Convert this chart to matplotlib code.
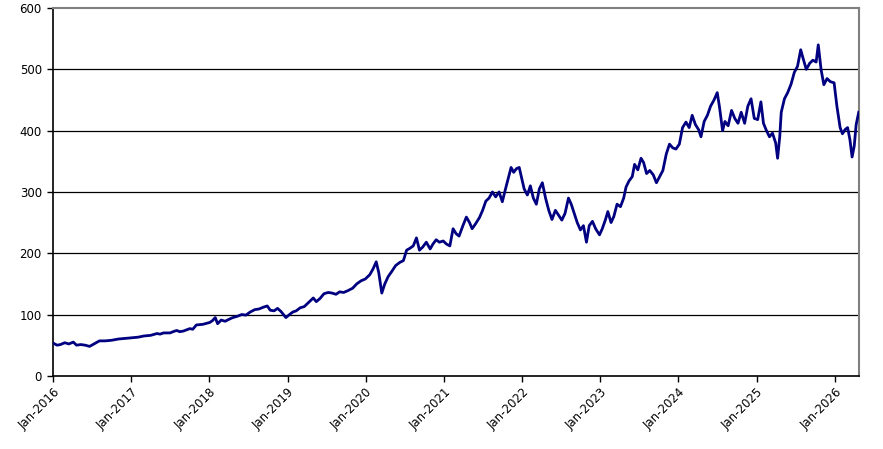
#!/usr/bin/env python3

import matplotlib
matplotlib.use('Agg')
import matplotlib.pyplot as plt
import matplotlib.dates as mdates
import pandas as pd

# readings taken off the chart, roughly two per month
DATES = [
    '2016-01-04', '2016-01-20', '2016-02-05', '2016-02-25', '2016-03-15', '2016-04-05',
    '2016-04-20', '2016-05-10', '2016-05-30', '2016-06-20', '2016-07-10', '2016-08-05',
    '2016-09-01', '2016-10-01', '2016-11-01', '2016-12-01',
    '2017-01-03', '2017-02-01', '2017-03-01', '2017-04-01', '2017-05-01', '2017-05-15',
    '2017-06-01', '2017-07-01', '2017-07-15', '2017-08-01', '2017-08-15', '2017-09-01',
    '2017-10-01', '2017-10-15', '2017-11-01', '2017-12-01',
    '2018-01-02', '2018-01-15', '2018-01-28', '2018-02-08', '2018-02-25', '2018-03-15',
    '2018-04-01', '2018-04-20', '2018-05-10', '2018-06-01', '2018-06-20', '2018-07-10',
    '2018-08-01', '2018-08-20', '2018-09-10', '2018-09-28', '2018-10-12', '2018-10-30',
    '2018-11-15', '2018-12-01', '2018-12-24',
    '2019-01-10', '2019-01-25', '2019-02-10', '2019-03-01', '2019-03-20', '2019-04-10',
    '2019-05-01', '2019-05-15', '2019-06-01', '2019-06-20', '2019-07-10', '2019-07-28',
    '2019-08-15', '2019-09-01', '2019-09-20', '2019-10-10', '2019-11-01', '2019-11-20',
    '2019-12-10', '2019-12-30',
    '2020-01-20', '2020-02-05', '2020-02-19', '2020-03-02', '2020-03-16', '2020-03-30',
    '2020-04-15', '2020-05-01', '2020-05-20', '2020-06-08', '2020-06-25', '2020-07-10',
    '2020-07-25', '2020-08-10', '2020-08-25', '2020-09-08', '2020-09-23', '2020-10-10',
    '2020-10-28', '2020-11-10', '2020-11-25', '2020-12-10', '2020-12-28',
    '2021-01-12', '2021-01-28', '2021-02-12', '2021-02-26', '2021-03-12', '2021-03-30',
    '2021-04-15', '2021-04-30', '2021-05-12', '2021-05-28', '2021-06-15', '2021-06-30',
    '2021-07-15', '2021-07-30', '2021-08-15', '2021-08-30', '2021-09-15', '2021-09-30',
    '2021-10-15', '2021-10-30', '2021-11-10', '2021-11-22', '2021-12-05', '2021-12-18',
    '2021-12-30',
    '2022-01-10', '2022-01-25', '2022-02-08', '2022-02-22', '2022-03-08', '2022-03-22',
    '2022-04-05', '2022-04-20', '2022-05-05', '2022-05-20', '2022-06-05', '2022-06-20',
    '2022-07-05', '2022-07-20', '2022-08-05', '2022-08-18', '2022-09-01', '2022-09-15',
    '2022-09-30', '2022-10-14', '2022-10-28', '2022-11-10', '2022-11-25', '2022-12-10',
    '2022-12-28',
    '2023-01-10', '2023-01-25', '2023-02-05', '2023-02-20', '2023-03-05', '2023-03-20',
    '2023-04-05', '2023-04-20', '2023-05-01', '2023-05-15', '2023-05-30', '2023-06-10',
    '2023-06-25', '2023-07-10', '2023-07-22', '2023-08-05', '2023-08-20', '2023-09-05',
    '2023-09-20', '2023-10-05', '2023-10-20', '2023-11-05', '2023-11-20', '2023-12-05',
    '2023-12-20',
    '2024-01-05', '2024-01-20', '2024-02-05', '2024-02-20', '2024-03-05', '2024-03-20',
    '2024-04-05', '2024-04-15', '2024-04-30', '2024-05-15', '2024-05-30', '2024-06-15',
    '2024-06-30', '2024-07-10', '2024-07-25', '2024-08-05', '2024-08-20', '2024-09-05',
    '2024-09-20', '2024-10-05', '2024-10-20', '2024-11-05', '2024-11-20', '2024-12-05',
    '2024-12-20',
    '2025-01-05', '2025-01-20', '2025-02-01', '2025-02-15', '2025-03-01', '2025-03-15',
    '2025-03-30', '2025-04-08', '2025-04-18', '2025-04-25', '2025-05-10', '2025-05-25',
    '2025-06-10', '2025-06-25', '2025-07-10', '2025-07-25', '2025-08-05', '2025-08-20',
    '2025-09-05', '2025-09-20', '2025-10-05', '2025-10-15', '2025-10-28', '2025-11-10',
    '2025-11-25', '2025-12-10', '2025-12-28',
    '2026-01-10', '2026-01-25', '2026-02-05', '2026-02-18', '2026-03-01', '2026-03-12',
    '2026-03-22', '2026-04-01', '2026-04-10', '2026-04-22',
]

PRICES = [
    53, 50, 51, 54, 52, 55, 50, 51, 50, 48, 52, 57, 57, 58, 60, 61,
    62, 63, 65, 66, 69, 68, 70, 70, 72, 74, 72, 73, 77, 76, 83, 84,
    87, 90, 95, 85, 91, 89, 92, 95, 97, 100, 99, 104, 108, 109, 112, 114, 107, 106,
    110, 105, 95,
    100, 104, 106, 111, 113, 120, 127, 121, 126, 134, 136, 135, 133, 137, 136, 139,
    143, 150, 155, 158,
    165, 175, 186, 168, 135, 150, 162, 170, 180, 185, 188, 205, 208, 212, 225, 205,
    210, 218, 207, 215, 222, 218, 220,
    215, 212, 240, 232, 228, 245, 259, 250, 240, 248, 258, 270, 285, 290, 300, 292,
    300, 284, 305, 325, 340, 332, 338, 340, 322,
    305, 295, 310, 290, 280, 305, 315, 290, 270, 255, 270, 262, 254, 265, 290, 280,
    265, 250, 238, 245, 218, 245, 252, 240, 230,
    240, 255, 268, 250, 260, 280, 276, 290, 308, 318, 325, 345, 336, 355, 348, 330,
    335, 328, 315, 325, 335, 362, 378, 372, 370,
    378, 405, 414, 405, 425, 410, 401, 390, 415, 425, 440, 450, 462, 440, 400, 415,
    408, 433, 420, 412, 430, 412, 440, 452, 420,
    418, 447, 412, 400, 390, 396, 380, 355, 390, 430, 452, 462, 476, 495, 505, 532,
    518, 500, 510, 515, 512, 540, 500, 475, 485, 480, 478,
    440, 405, 395, 402, 405, 385, 357, 375, 410, 430,
]

YEARS = list(range(2016, 2027))


def main():
    dates = pd.to_datetime(DATES)

    fig = plt.figure(figsize=(8.83, 4.49), dpi=100)
    ax = fig.add_axes([0.060, 0.163, 0.913, 0.819])

    ax.plot(dates, PRICES, color='#000080', lw=2.0, zorder=3)

    ax.set_ylim(0, 600)
    ax.set_yticks(range(0, 601, 100))
    ax.set_xlim(pd.Timestamp('2016-01-01'), pd.Timestamp('2026-04-24'))

    ticks = [pd.Timestamp(f'{y}-01-01') for y in YEARS]
    ax.set_xticks(ticks)
    ax.xaxis.set_major_formatter(mdates.DateFormatter('%b-%Y'))
    plt.setp(ax.get_xticklabels(), rotation=45, ha='right', rotation_mode='anchor')

    for y in range(100, 600, 100):
        ax.axhline(y, color='black', lw=0.9, zorder=1)

    ax.spines['top'].set_color('#808080')
    ax.spines['right'].set_color('#808080')
    ax.spines['top'].set_linewidth(1.5)
    ax.spines['right'].set_linewidth(1.5)
    ax.spines['left'].set_linewidth(1.2)
    ax.spines['bottom'].set_linewidth(1.2)

    ax.tick_params(axis='both', direction='out', length=4, width=1,
                   labelsize=8.5, colors='black', pad=3)
    ax.tick_params(axis='y', pad=4)

    fig.savefig('out.png', dpi=100)
    plt.close(fig)


if __name__ == '__main__':
    main()
